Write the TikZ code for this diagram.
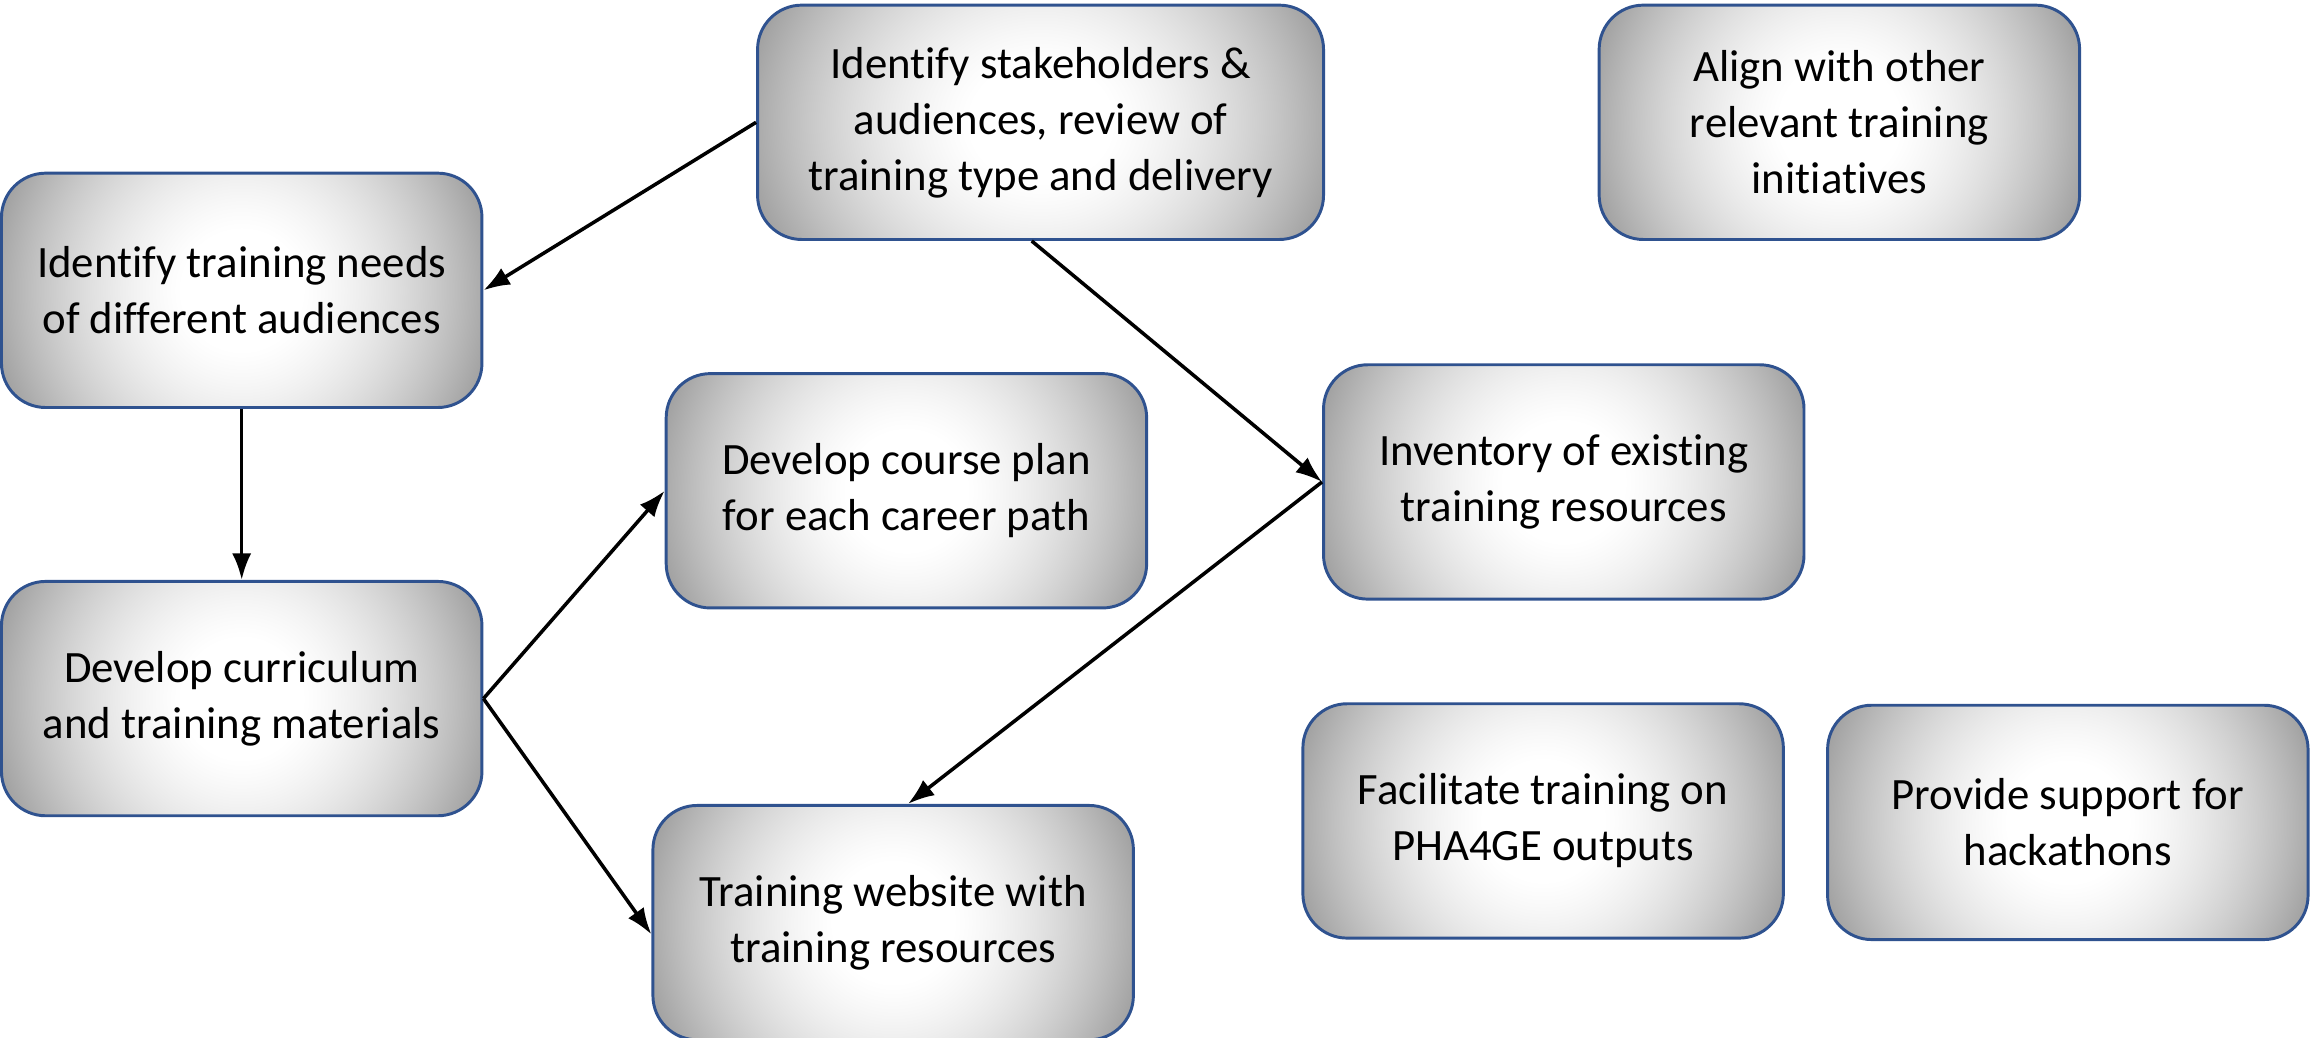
\documentclass[tikz,border=0pt]{standalone}
\usepackage{fontspec}
\setmainfont{Carlito}[Ligatures=NoCommon]
\usepackage{tikz}
\usetikzlibrary{arrows.meta,shapes,positioning}
\definecolor{boxline}{RGB}{47,82,143}
% round white centre, grey towards the left and right sides
\pgfdeclarefunctionalshading{taskshade}{\pgfpoint{-50bp}{-50bp}}{\pgfpoint{50bp}{50bp}}{}{
    0.488 mul 25 div dup mul exch 25 div dup mul add sqrt
    0.25 sub dup 0 lt {pop 0} if
    dup dup mul 0.32 mul exch 0.2 mul add
    1 exch sub dup 0.6 lt {pop 0.6} if
    dup dup}

\begin{document}
\begin{tikzpicture}
    [x=0.5pt, y=-0.5pt,
    task/.style = {shape=rectangle, rounded corners=15pt,
        draw=boxline, line width=1pt, align=center,
        minimum width=163pt, minimum height=79.5pt, inner sep=0pt,
        shading=taskshade,
        font=\fontsize{15.2}{19}\selectfont},
    link/.style = {-{Latex[length=9pt,width=6.5pt]}, line width=1.2pt}]

    \useasboundingbox (0,0) rectangle (1568,704);

    \node[task, minimum width=192pt] (stake) at (706,83)
        {Identify stakeholders \&\\ audiences, review of\\ training type and delivery};
    \node[task] (align) at (1248,83) {Align with other\\ relevant training\\ initiatives};
    \node[task] (needs) at (164,197) {Identify training needs\\ of different audiences};
    \node[task] (course) at (615,333) {Develop course plan\\ for each career path};
    \node[task] (inventory) at (1061,327) {Inventory of existing\\ training resources};
    \node[task] (curric) at (164,474) {Develop curriculum\\ and training materials};
    \node[task] (facil) at (1047,557) {Facilitate training on\\ PHA4GE outputs};
    \node[task] (hack) at (1403,558) {Provide support for\\ hackathons};
    \node[task] (website) at (606,626) {Training website with\\ training resources};

    \draw[link] (stake.west) -- (needs.east);
    \draw[link] ([xshift=-3pt]stake.south) -- (inventory.west);
    \draw[link] (needs.south) -- (curric.north);
    \draw[link] (curric.east) -- (course.west);
    \draw[link] (curric.east) -- ([yshift=-4pt]website.west);
    \draw[link] (inventory.west) -- ([xshift=5pt]website.north);
\end{tikzpicture}
\end{document}
